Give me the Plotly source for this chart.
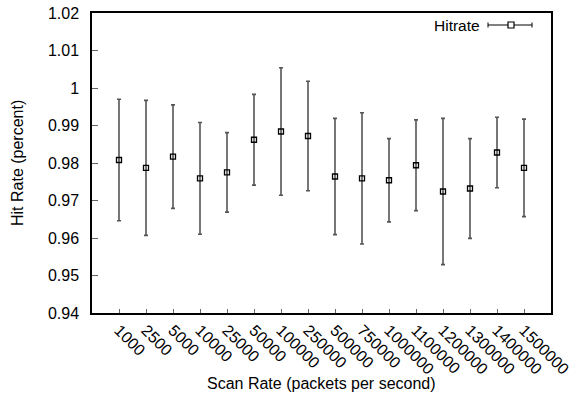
import plotly.graph_objects as go

categories = ["1000", "2500", "5000", "10000", "25000", "50000", "100000", "250000",
              "500000", "750000", "1000000", "1100000", "1200000", "1300000", "1400000", "1500000"]
hitrate = [0.9808, 0.9787, 0.9817, 0.9759, 0.9775, 0.9862, 0.9884, 0.9872,
           0.9764, 0.9759, 0.9754, 0.9794, 0.9724, 0.9732, 0.9828, 0.9787]
err = [0.0162, 0.0180, 0.0138, 0.0149, 0.0106, 0.0121, 0.0170, 0.0146,
       0.0155, 0.0175, 0.0111, 0.0121, 0.0195, 0.0133, 0.0094, 0.0130]
yticks = [0.94, 0.95, 0.96, 0.97, 0.98, 0.99, 1.0, 1.01, 1.02]
ytick_text = ["0.94", "0.95", "0.96", "0.97", "0.98", "0.99", "1", "1.01", "1.02"]

xpos = list(range(1, len(categories) + 1))
FONT = "Liberation Sans, Arial, sans-serif"
FS = 16

L, R, T, B = 92, 551, 13, 313
W, H = R - L, B - T
def px(x):
    return (x - L) / W
def py(y):
    return (B - y) / H

fig = go.Figure()
fig.add_trace(go.Scatter(
    x=xpos, y=hitrate, mode="markers", name="Hitrate",
    marker=dict(symbol="square-open", size=5, color="black", line=dict(width=1.3, color="black")),
    error_y=dict(type="data", array=err, visible=True, color="#555555", thickness=1.6, width=2),
    showlegend=False,
))

ly = 25
fig.update_layout(
    width=571, height=394,
    margin=dict(l=L, r=571 - R, t=T, b=394 - B, autoexpand=False),
    plot_bgcolor="white", paper_bgcolor="white",
    font=dict(family=FONT, size=FS, color="black"),
    xaxis=dict(
        range=[0, len(categories) + 1], tickmode="array", tickvals=xpos, ticktext=categories,
        tickangle=45, ticks="inside", ticklen=4, tickcolor="#666", tickwidth=1,
        showline=True, linecolor="black", linewidth=1.5, mirror=True,
        showgrid=False, zeroline=False, tickfont=dict(size=FS, family=FONT),
        ticklabeloverflow="allow", automargin=False,
    ),
    yaxis=dict(
        range=[0.94, 1.02], tickmode="array", tickvals=yticks, ticktext=ytick_text,
        ticks="inside", ticklen=6, tickcolor="#666", tickwidth=1,
        showline=True, linecolor="black", linewidth=1.5, mirror=True,
        showgrid=False, zeroline=False, tickfont=dict(size=FS, family=FONT),
        ticklabelstandoff=8, automargin=False,
    ),
    annotations=[
        dict(text="Scan Rate (packets per second)", xref="paper", yref="paper",
             x=0.5, y=0, yshift=-70, xanchor="center", yanchor="middle",
             showarrow=False, font=dict(size=FS)),
        dict(text="Hit Rate (percent)", xref="paper", yref="paper", x=0, xshift=-75,
             xanchor="center", yanchor="middle",
             y=0.5, textangle=-90, showarrow=False, font=dict(size=FS)),
        dict(text="Hitrate", xref="paper", yref="paper", x=px(482), y=py(ly),
             xanchor="right", yanchor="middle", showarrow=False, font=dict(size=15.5)),
    ],
    shapes=[
        dict(type="line", xref="paper", yref="paper", x0=px(488), x1=px(532),
             y0=py(ly), y1=py(ly), line=dict(color="black", width=1)),
        dict(type="line", xref="paper", yref="paper", x0=px(488), x1=px(488),
             y0=py(ly - 2.5), y1=py(ly + 2.5), line=dict(color="black", width=1)),
        dict(type="line", xref="paper", yref="paper", x0=px(532), x1=px(532),
             y0=py(ly - 2.5), y1=py(ly + 2.5), line=dict(color="black", width=1)),
        dict(type="rect", xref="paper", yref="paper", x0=px(508), x1=px(514),
             y0=py(ly - 3), y1=py(ly + 3), line=dict(color="black", width=1.2),
             fillcolor="white"),
    ],
)

fig.write_html("out.html")
